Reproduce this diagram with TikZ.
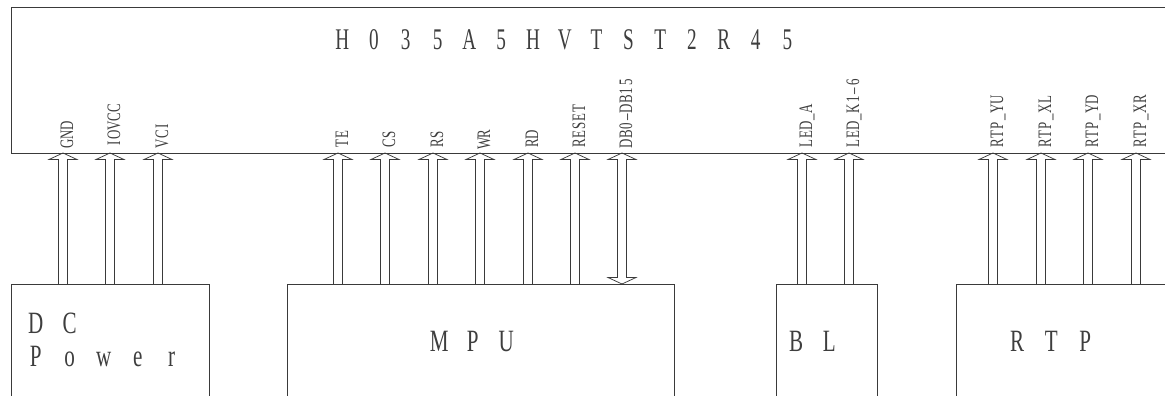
\documentclass[tikz,border=0pt]{standalone}
\usepackage{fontspec}
\usetikzlibrary{calc}
\newfontfamily\condfont[FakeStretch=0.68]{Liberation Serif}
\newfontfamily\titlefont[FakeStretch=0.64]{Liberation Serif}
\definecolor{ln}{HTML}{3A3A3A}
\definecolor{tx}{HTML}{3E3E3E}
\makeatletter
\def\monospaced#1#2{\def\mono@w{#1}\expandafter\mono@loop#2\relax}
\def\mono@loop#1{\ifx#1\relax\else\makebox[\mono@w][c]{#1}\expandafter\mono@loop\fi}
\makeatother
\newcommand\pinup[2]{\draw[pin] ($(#2)+(-4.5,0)$) -- ($(#1)+(-4.5,6.5)$) -- ($(#1)+(-14,6.5)$) -- (#1) -- ($(#1)+(14,6.5)$) -- ($(#1)+(4.5,6.5)$) -- ($(#2)+(4.5,0)$);}
\newcommand\pinboth[2]{\draw[pin] ($(#1)+(-4.5,6.5)$) -- ($(#1)+(-14,6.5)$) -- (#1) -- ($(#1)+(14,6.5)$) -- ($(#1)+(4.5,6.5)$) -- ($(#2)+(4.5,-6.5)$) -- ($(#2)+(14,-6.5)$) -- (#2) -- ($(#2)+(-14,-6.5)$) -- ($(#2)+(-4.5,-6.5)$) -- cycle;}
\begin{document}
\begin{tikzpicture}[x=1pt,y=-1pt,
  box/.style={draw=ln, line width=0.9pt, inner sep=0pt, outer sep=0pt, anchor=north west},
  pin/.style={draw=ln, line width=0.75pt, line join=miter},
  pinlbl/.style={rotate=90, anchor=base west, inner sep=0pt, text=tx, font=\condfont\fontsize{19}{19}\selectfont},
  titletext/.style={anchor=base west, inner sep=0pt, text=tx, font=\titlefont\fontsize{30}{30}\selectfont},
  boxtext/.style={anchor=base west, inner sep=0pt, text=tx, font=\condfont\fontsize{31}{31}\selectfont}]
\useasboundingbox (0,0) rectangle (1165,396);
\clip (0,0) rectangle (1165,396);
% main module
\node[box, minimum width=1180pt, minimum height=145.5pt] (lcd) at (11,7.5) {};
\node[titletext] (name) at (326.1,50) {\monospaced{31.8pt}{H035A5HVTST2R45}};
% lower blocks
\node[box, minimum width=198pt, minimum height=130pt] (dc) at (11,284) {};
\node[box, minimum width=387pt, minimum height=130pt] (mpu) at (287,284) {};
\node[box, minimum width=101pt, minimum height=130pt] (bl) at (776,284) {};
\node[box, minimum width=230pt, minimum height=130pt] (rtp) at (956,284) {};
\node[boxtext] (dct1) at (18.5,333) {\monospaced{34pt}{DC}};
\node[boxtext] (dct2) at (18.5,366) {\monospaced{34pt}{Power}};
\node[boxtext] (mput) at (422.25,351) {\monospaced{33.5pt}{MPU}};
\node[boxtext] (blt) at (779.5,351.5) {\monospaced{33pt}{BL}};
\node[boxtext] (rtpt) at (1000,351.5) {\monospaced{34pt}{RTP}};
% pins
\foreach \x/\n/\lab/\bx in {63/gnd/GND/dc, 110/iovcc/IOVCC/dc, 158/vci/VCI/dc,
  338/te/TE/mpu, 385/cs/CS/mpu, 433/rs/RS/mpu, 480/wr/WR/mpu, 528/rd/RD/mpu, 575/reset/RESET/mpu,
  622/db/DB0\textendash DB15/mpu,
  802/leda/LED\_A/bl, 849/ledk/LED\_K1\textendash 6/bl,
  993/yu/RTP\_YU/rtp, 1041/xl/RTP\_XL/rtp, 1088/yd/RTP\_YD/rtp, 1136/xr/RTP\_XR/rtp}{
  \path (\x,0) coordinate (x\n);
  \coordinate (t\n) at (x\n |- lcd.south);
  \coordinate (b\n) at (x\n |- \bx.north);
  \node[pinlbl] (l\n) at ($(t\n)+(10,-5)$) {\monospaced{8.75pt}{\lab}};
}
\foreach \n in {gnd,iovcc,vci,te,cs,rs,wr,rd,reset,leda,ledk,yu,xl,yd,xr}{
  \pinup{t\n}{b\n}
}
\pinboth{tdb}{bdb}
\end{tikzpicture}
\end{document}
